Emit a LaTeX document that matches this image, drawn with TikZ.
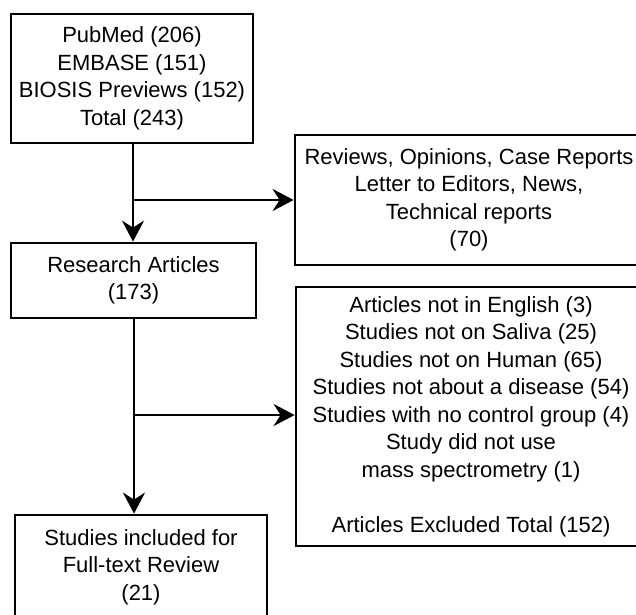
\documentclass[tikz,border=0pt]{standalone}
\usepackage{fontspec}
\setmainfont{Liberation Sans}
\usetikzlibrary{arrows.meta}
\begin{document}
\begin{tikzpicture}[x=1pt,y=-1pt,
  box/.style={draw=black, line width=2.8pt, rectangle, align=center, inner sep=0pt,
    font=\fontsize{22}{27.5}\selectfont},
  conn/.style={line width=2.8pt, -{Stealth[length=21pt,width=22pt,inset=7pt]}}]
\useasboundingbox (0,0) rectangle (636,614);
\fill[white] (0,0) rectangle (636,614);
\clip (0,0) rectangle (636,614);
\node[box, minimum width=242pt, minimum height=129pt] (src) at (132,78.5)
  {PubMed (206)\\EMBASE (151)\\BIOSIS Previews (152)\\Total (243)};
\node[box, minimum width=245pt, minimum height=75pt] (res) at (133.5,280.5)
  {Research Articles\\(173)};
\node[box, minimum width=348pt, minimum height=130pt] (rev) at (469,200)
  {Reviews, Opinions, Case Reports\\Letter to Editors, News,\\Technical reports\\(70)};
\node[box, minimum width=350pt, minimum height=259pt] (exc) at (471,416.5)
  {Articles not in English (3)\\Studies not on Saliva (25)\\Studies not on Human (65)\\Studies not about a disease (54)\\Studies with no control group (4)\\Study did not use\\mass spectrometry (1)\\[27.5pt]Articles Excluded Total (152)};
\node[box, minimum width=252pt, minimum height=104pt] (inc) at (141,567)
  {Studies included for\\Full-text Review\\(21)};
\coordinate (j1) at (133,200);
\coordinate (j2) at (134,415);
\draw[conn] (j1 |- src.south) -- (j1 |- res.north);
\draw[conn] (j1) -- (j1 -| rev.west);
\draw[conn] (j2 |- res.south) -- (j2 |- inc.north);
\draw[conn] (j2) -- (j2 -| exc.west);
\end{tikzpicture}
\end{document}
